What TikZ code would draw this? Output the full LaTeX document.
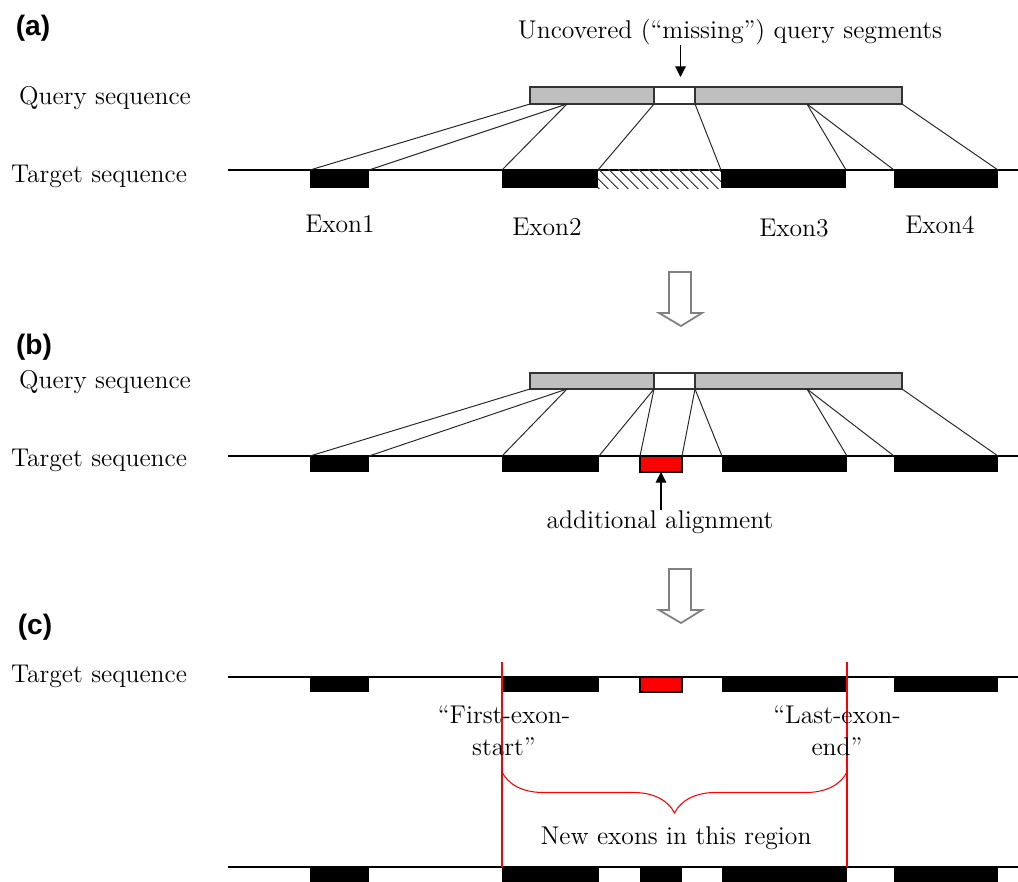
\documentclass[tikz,border=0pt]{standalone}
\usepackage{fontspec}
\setsansfont{Liberation Sans}
\usetikzlibrary{fit,calc,arrows.meta,patterns.meta,decorations.pathreplacing}

\tikzset{
  seqline/.style={line width=0.7pt},
  exon/.style={fill=black,inner sep=0pt,outer sep=0pt},
  query/.style={draw=black!80,fill=black!25,line width=0.7pt,inner sep=0pt,outer sep=0pt},
  qgap/.style={query,fill=white},
  newaln/.style={draw=black,fill=red,line width=0.6pt,inner sep=0pt,outer sep=0pt},
  hatched/.style={pattern={Lines[angle=-45,distance=4pt,line width=0.6pt]},pattern color=black!75,inner sep=0pt,outer sep=0pt},
  aln/.style={line width=0.55pt,black!85},
  pointer/.style={-{Triangle[length=6pt,width=6pt]},line width=0.6pt},
  hollow/.style={draw=black!50,line width=1pt,fill=white},
  txt/.style={font=\fontsize{14.6}{18}\selectfont,inner sep=0pt},
  panel/.style={font=\sffamily\bfseries\fontsize{16}{19}\selectfont,inner sep=0pt},
  region/.style={red,line width=0.6pt}
}

\begin{document}
\begin{tikzpicture}[x=0.02cm,y=-0.02cm]
  \useasboundingbox (0,0) rectangle (1018,882);

  % (a) uncovered query segments
  \node[panel] (pa) at (33,28) {(a)};
  \node[txt] (qsa) at (105,98) {Query sequence};
  \node[txt] (tsa) at (99,176) {Target sequence};
  \node[txt] (unc) at (730,32) {Uncovered (“missing”) query segments};
  \coordinate (la) at (228,170);
  \coordinate (ra) at (1018,170);
  \draw[seqline] (la) -- (ra);
  \node[query, fit={(530,87) (654,104)}] (qla) {};
  \node[qgap, fit={(654,87) (695,104)}] (gapa) {};
  \node[query, fit={(695,87) (902,104)}] (qra) {};
  \coordinate (qa1) at (567,104);
  \coordinate (qa2) at (807,104);
  \node[exon, fit={(310,170) (369,188)}] (a1) {};
  \node[exon, fit={(502,170) (598,188)}] (a2) {};
  \node[hatched, fit={(598,170) (721,188)}] (ah) {};
  \node[exon, fit={(721,170) (846,188)}] (a3) {};
  \node[exon, fit={(894,170) (998,188)}] (a4) {};
  \draw[aln] (qla.south west) -- (a1.north west);
  \draw[aln] (qa1) -- (a1.north east);
  \draw[aln] (qa1) -- (a2.north west);
  \draw[aln] (qla.south east) -- (ah.north west);
  \draw[aln] (qra.south west) -- (ah.north east);
  \draw[aln] (qa2) -- (a3.north east);
  \draw[aln] (qa2) -- (a4.north west);
  \draw[aln] (qra.south east) -- (a4.north east);
  \draw[pointer] ($(unc.south -| gapa.north)+(6,0)$) -- ($(gapa.north)+(6,-10)$);
  \node[txt] (ex1) at (340,224) {Exon1};
  \node[txt] (ex2) at (547,227) {Exon2};
  \node[txt] (ex3) at (794,228) {Exon3};
  \node[txt] (ex4) at (940,225) {Exon4};

  \draw[hollow] (669,272) -- (691,272) -- (691,313) -- (702,313) -- (681,326) -- (659,313) -- (669,313) -- cycle;

  % (b) additional alignment
  \node[panel] (pb) at (34,347) {(b)};
  \node[txt] (qsb) at (105,382) {Query sequence};
  \node[txt] (tsb) at (99,460) {Target sequence};
  \coordinate (lb) at (228,456);
  \coordinate (rb) at (1018,456);
  \draw[seqline] (lb) -- (rb);
  \node[query, fit={(530,373) (654,389)}] (qlb) {};
  \node[qgap, fit={(654,373) (695,389)}] (gapb) {};
  \node[query, fit={(695,373) (902,389)}] (qrb) {};
  \coordinate (qb1) at (567,389);
  \coordinate (qb2) at (807,389);
  \node[exon, fit={(310,456) (369,472)}] (b1) {};
  \node[exon, fit={(502,456) (599,472)}] (b2) {};
  \node[newaln, fit={(640,456) (682,472)}] (bn) {};
  \node[exon, fit={(722,456) (847,472)}] (b3) {};
  \node[exon, fit={(894,456) (998,472)}] (b4) {};
  \draw[aln] (qlb.south west) -- (b1.north west);
  \draw[aln] (qb1) -- (b1.north east);
  \draw[aln] (qb1) -- (b2.north west);
  \draw[aln] (qlb.south east) -- (b2.north east);
  \draw[aln] (gapb.south west) -- (bn.north west);
  \draw[aln] (gapb.south east) -- (bn.north east);
  \draw[aln] (qrb.south west) -- (b3.north west);
  \draw[aln] (qb2) -- (b3.north east);
  \draw[aln] (qb2) -- (b4.north west);
  \draw[aln] (qrb.south east) -- (b4.north east);
  \node[txt] (addl) at (660,522) {additional alignment};
  \draw[pointer] (addl.north -| bn.south) -- (bn.south);

  \draw[hollow] (669,569) -- (691,569) -- (691,610) -- (702,610) -- (681,623) -- (659,610) -- (669,610) -- cycle;

  % (c) region of new exons
  \node[panel] (pc) at (35,627) {(c)};
  \node[txt] (tsc) at (99,676) {Target sequence};
  \coordinate (lc) at (228,677);
  \coordinate (rc) at (1018,677);
  \draw[seqline] (lc) -- (rc);
  \node[exon, fit={(310,677) (369,692)}] (c1) {};
  \node[exon, fit={(502,677) (599,692)}] (c2) {};
  \node[newaln, fit={(640,677) (682,692)}] (cn) {};
  \node[exon, fit={(722,677) (847,692)}] (c3) {};
  \node[exon, fit={(894,677) (998,692)}] (c4) {};
  \coordinate (ld) at (228,867);
  \coordinate (rd) at (1018,867);
  \draw[seqline] (ld) -- (rd);
  \node[exon, fit={(310,867) (369,882)}] (d1) {};
  \node[exon, fit={(502,867) (599,882)}] (d2) {};
  \node[exon, fit={(640,867) (682,882)}] (dn) {};
  \node[exon, fit={(722,867) (847,882)}] (d3) {};
  \node[exon, fit={(894,867) (998,882)}] (d4) {};
  \draw[region] (c2.north west |- 0,662) -- (d2.north west);
  \draw[region] (c3.north east |- 0,662) -- (d3.north east);
  \node[txt, align=center] (fes) at (504,731) {“First-exon-\\start”};
  \node[txt, align=center] (lee) at (837,731) {“Last-exon-\\end”};
  \draw[region, decorate, decoration={brace,mirror,amplitude=0.82cm}]
    (c2.north west |- 0,772) -- (c3.north east |- 0,772);
  \node[txt] (newex) at (676,838) {New exons in this region};
\end{tikzpicture}
\end{document}
